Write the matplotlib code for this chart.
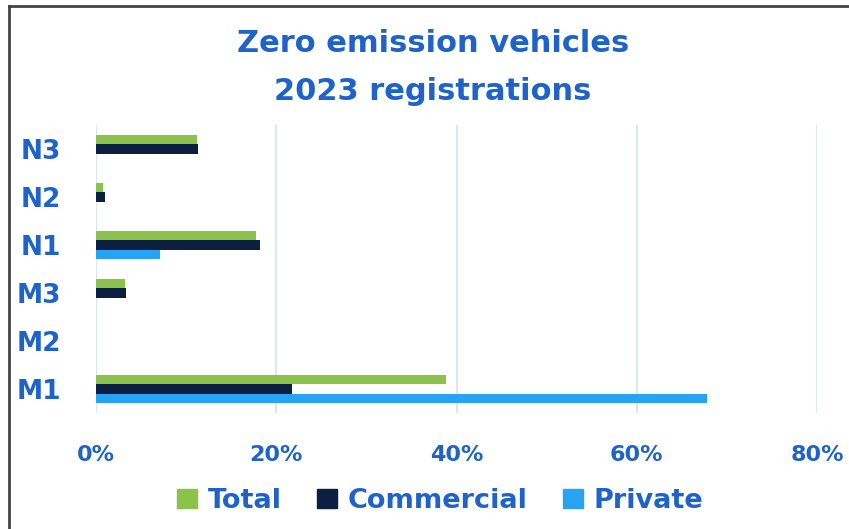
import numpy as np
import matplotlib
matplotlib.use("Agg")
import matplotlib.pyplot as plt
from matplotlib.lines import Line2D
from matplotlib.patches import Patch
from matplotlib.ticker import PercentFormatter

categories = ["M1", "M2", "M3", "N1", "N2", "N3"]
total = [38.8, 0.0, 3.2, 17.7, 0.8, 11.2]
commercial = [21.8, 0.0, 3.3, 18.2, 1.0, 11.3]
private = [67.8, 0.0, 0.0, 7.1, 0.0, 0.0]
series_names = ["Total", "Commercial", "Private"]

BLUE_TEXT = "#1E63C9"
colors = ["#8BC34A", "#0B1F40", "#27A3F2"]

plt.rcParams['font.family'] = ['DejaVu Sans']

fig = plt.figure(figsize=(8.49, 5.29), dpi=100)
ax = fig.add_axes([96 / 849, 1 - 413 / 529, (817 - 96) / 849, 288 / 529])

y = np.arange(len(categories))
h = 0.2
for vals, off, c in zip([total, commercial, private], [h, 0, -h], colors):
    ax.barh(y + off, vals, height=h, color=c, zorder=3)

ax.set_xlim(0, 80)
ax.set_ylim(-0.5, len(categories) - 0.5)
ax.set_xticks([0, 20, 40, 60, 80])
ax.xaxis.set_major_formatter(PercentFormatter(decimals=0))
ax.set_yticks(y)
ax.set_yticklabels(categories)
ax.grid(axis="x", color="#DCE6F4", linewidth=1.5, zorder=0)
ax.tick_params(axis="both", length=0, colors=BLUE_TEXT)
ax.tick_params(axis="y", pad=25, labelsize=19)
ax.tick_params(axis="x", pad=23, labelsize=16)
for lab in ax.get_xticklabels() + ax.get_yticklabels():
    lab.set_fontweight("bold")
for s in ax.spines.values():
    s.set_visible(False)

fig.text(433 / 849, 1 - 43 / 529, "Zero emission vehicles", ha="center", va="center",
         fontsize=22, fontweight="bold", color=BLUE_TEXT)
fig.text(433 / 849, 1 - 92 / 529, "2023 registrations", ha="center", va="center",
         fontsize=22, fontweight="bold", color=BLUE_TEXT)

handles = [Patch(color=c) for c in colors]
leg = fig.legend(handles, series_names, loc="center", bbox_to_anchor=(440 / 849, 1 - 501 / 529),
                 ncols=3, frameon=False, handlelength=0.74, handleheight=0.74,
                 handletextpad=0.4, columnspacing=1.3,
                 prop={"size": 19.5, "weight": "bold"})
for t in leg.get_texts():
    t.set_color(BLUE_TEXT)

# frame lines at left and top
fig.add_artist(Line2D([8.5 / 849, 8.5 / 849], [0, 1 - 5.5 / 529], transform=fig.transFigure,
                      color="#444444", linewidth=2))
fig.add_artist(Line2D([8.5 / 849, 1], [1 - 5.5 / 529, 1 - 5.5 / 529], transform=fig.transFigure,
                      color="#444444", linewidth=2))

fig.savefig("out.png", dpi=100, facecolor="white")
